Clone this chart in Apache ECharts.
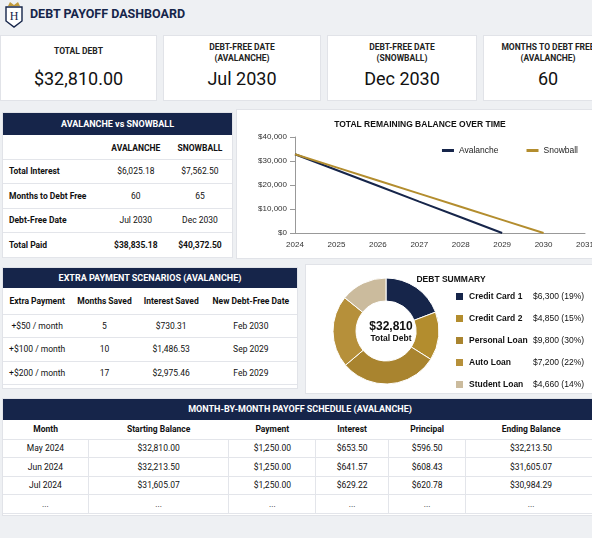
<!DOCTYPE html>
<html><head><meta charset="utf-8">
<script src="https://cdn.jsdelivr.net/npm/echarts@6/dist/echarts.min.js"></script>
<style>
body{margin:0;width:592px;height:538px;background:#eef0f3;font-family:Roboto,"Liberation Sans",Arial,sans-serif;color:#111;position:relative;overflow:hidden}
.box{position:absolute;background:#fff;border:1px solid #e1e3e8;box-sizing:border-box}
.card{text-align:center}
.card .l{font-size:8.5px;font-weight:bold;color:#222;line-height:11px}
.card .v{font-size:18px;position:absolute;left:0;right:0;top:32px}
.hd{background:#16254a;color:#fff;font-weight:bold;font-size:9px;text-align:center;height:22px;line-height:22px}
table{border-collapse:collapse;width:100%;font-size:8.5px}
td,th{text-align:center;border-bottom:1px solid #e3e5ea}
th{font-weight:bold}
</style></head><body>
<svg style="position:absolute;left:4px;top:1px" width="20" height="28" viewBox="0 0 20 28">
<path d="M4 5 L6 1 L10 4 L14 1 L16 5 Z" fill="#c19a3c"/>
<path d="M2 6 H18 V20 L10 26 L2 20 Z" fill="#fff" stroke="#16254a" stroke-width="1.4"/>
<text x="10" y="19" font-size="12" text-anchor="middle" font-family="Liberation Serif" fill="#16254a">H</text>
</svg>
<div style="position:absolute;left:30px;top:6px;font-size:12.5px;font-weight:bold;color:#16254a">DEBT PAYOFF DASHBOARD</div>

<div class="box card" style="left:0;top:35px;width:157px;height:66px"><div class="l" style="margin-top:10px">TOTAL DEBT</div><div class="v">$32,810.00</div></div>
<div class="box card" style="left:163px;top:35px;width:158px;height:66px"><div class="l" style="margin-top:6px">DEBT-FREE DATE<br>(AVALANCHE)</div><div class="v">Jul 2030</div></div>
<div class="box card" style="left:327px;top:35px;width:150px;height:66px"><div class="l" style="margin-top:6px">DEBT-FREE DATE<br>(SNOWBALL)</div><div class="v">Dec 2030</div></div>
<div class="box card" style="left:483px;top:35px;width:130px;height:66px"><div class="l" style="margin-top:6px">MONTHS TO DEBT FREE<br>(AVALANCHE)</div><div class="v">60</div></div>

<div class="box" style="left:2px;top:112px;width:231px;height:146px">
<div class="hd">AVALANCHE vs SNOWBALL</div>
<table id="avs" style="margin-top:2px"></table></div>

<div class="box" style="left:236px;top:109px;width:362px;height:150px"><div id="line" style="width:362px;height:150px"></div></div>

<div class="box" style="left:2px;top:267px;width:296px;height:122px">
<div class="hd" style="height:20px;line-height:20px">EXTRA PAYMENT SCENARIOS (AVALANCHE)</div>
<table id="ext"></table></div>

<div class="box" style="left:305px;top:264px;width:293px;height:130px"><div id="pie" style="width:293px;height:130px"></div></div>

<div class="box" style="left:2px;top:398px;width:596px;height:118px">
<div class="hd" style="height:21px;line-height:21px">MONTH-BY-MONTH PAYOFF SCHEDULE (AVALANCHE)</div>
<table id="sch"></table></div>

<script>
// ---- data ----
var avsHead = ['', 'AVALANCHE', 'SNOWBALL'];
var avsRows = [
  ['Total Interest', '$6,025.18', '$7,562.50'],
  ['Months to Debt Free', '60', '65'],
  ['Debt-Free Date', 'Jul 2030', 'Dec 2030'],
  ['Total Paid', '$38,835.18', '$40,372.50']
];
var extHead = ['Extra Payment', 'Months Saved', 'Interest Saved', 'New Debt-Free Date'];
var extRows = [
  ['+$50 / month', '5', '$730.31', 'Feb 2030'],
  ['+$100 / month', '10', '$1,486.53', 'Sep 2029'],
  ['+$200 / month', '17', '$2,975.46', 'Feb 2029']
];
var schHead = ['Month', 'Starting Balance', 'Payment', 'Interest', 'Principal', 'Ending Balance'];
var schRows = [
  ['May 2024', '$32,810.00', '$1,250.00', '$653.50', '$596.50', '$32,213.50'],
  ['Jun 2024', '$32,213.50', '$1,250.00', '$641.57', '$608.43', '$31,605.07'],
  ['Jul 2024', '$31,605.07', '$1,250.00', '$629.22', '$620.78', '$30,984.29'],
  ['...', '...', '...', '...', '...', '...']
];
var years = [2024, 2025, 2026, 2027, 2028, 2029, 2030];
var avalanche = [32810, 26250, 19700, 13100, 6550, 0, null];
var snowball = [32810, 27350, 21870, 16400, 10940, 5470, 0];
var debtNames = ['Credit Card 1', 'Credit Card 2', 'Personal Loan', 'Auto Loan', 'Student Loan'];
var debtValues = [6300, 4850, 9800, 7200, 4660];
var debtPct = ['19%', '15%', '30%', '22%', '14%'];
var debtColors = ['#16254a', '#b38d2e', '#a9842f', '#b6903a', '#cbbb9d'];

function fillTable(id, head, rows, h, firstBold, colW) {
  var t = document.getElementById(id), s = '<tr style="height:' + h[0] + 'px">';
  head.forEach(function (c, i) { s += '<th' + (colW ? ' style="width:' + colW[i] + '"' : '') + '>' + c + '</th>'; });
  s += '</tr>';
  rows.forEach(function (r) {
    s += '<tr style="height:' + h[1] + 'px">';
    r.forEach(function (c, i) {
      var st = '';
      if (firstBold && i == 0) st = 'text-align:left;padding-left:6px;font-weight:bold';
      if (firstBold && r[0] == 'Total Paid') st += ';font-weight:bold';
      s += '<td style="' + st + '">' + c + '</td>';
    });
    s += '</tr>';
  });
  t.innerHTML = s;
}
fillTable('avs', avsHead, avsRows, [22, 24.5], true, ['44%', '28%', '28%']);
fillTable('ext', extHead, extRows, [26, 23.5], false);
fillTable('sch', schHead, schRows, [19, 18.5], false);
document.querySelectorAll('#sch td').forEach(function (d) { d.style.borderRight = '1px solid #e3e5ea'; });

var line = echarts.init(document.getElementById('line'));
line.setOption({
  animation: false,
  title: { text: 'TOTAL REMAINING BALANCE OVER TIME', left: 178, top: 5, textAlign: 'center',
    textStyle: { fontSize: 8.5, fontWeight: 'bold', color: '#111' } },
  legend: { right: 16, top: 31, itemWidth: 12, itemHeight: 3, itemGap: 28, icon: 'rect',
    textStyle: { fontSize: 8.5, color: '#222' } },
  grid: { left: 58, right: 14, top: 27, bottom: 27 },
  xAxis: { type: 'value', min: 2024, max: 2031, interval: 1,
    axisLine: { lineStyle: { color: '#999' } }, axisTick: { show: false }, splitLine: { show: false },
    axisLabel: { fontSize: 8, color: '#333', formatter: function (v) { return v; } } },
  yAxis: { type: 'value', min: 0, max: 40000, interval: 10000,
    axisLine: { show: true, lineStyle: { color: '#999' } }, splitLine: { show: false },
    axisLabel: { fontSize: 8, color: '#333', formatter: function (v) { return '$' + v.toLocaleString('en-US'); } } },
  series: [
    { name: 'Avalanche', type: 'line', symbol: 'none', lineStyle: { width: 2, color: '#16254a' }, itemStyle: { color: '#16254a' },
      data: years.map(function (y, i) { return [y, avalanche[i]]; }) },
    { name: 'Snowball', type: 'line', symbol: 'none', lineStyle: { width: 2, color: '#b38d2e' }, itemStyle: { color: '#b38d2e' },
      data: years.map(function (y, i) { return [y, snowball[i]]; }) }
  ]
});

var pie = echarts.init(document.getElementById('pie'));
pie.setOption({
  animation: false,
  title: [{ text: 'DEBT SUMMARY', left: 140, top: 5, textAlign: 'center', textStyle: { fontSize: 8.5, fontWeight: 'bold', color: '#111' } },
    { text: '$32,810', subtext: 'Total Debt', left: 80, top: 51, textAlign: 'center',
      textStyle: { fontSize: 12, fontWeight: 'bold', color: '#111' }, subtextStyle: { fontSize: 8.5, color: '#111', fontWeight: 'bold' }, itemGap: 1 }],
  legend: { type: 'plain', orient: 'vertical', left: 148, top: 26, height: 110, padding: 0, itemWidth: 9, itemHeight: 9, itemGap: 11, icon: 'rect',
    textStyle: { fontSize: 8.5, color: '#111', rich: { n: { width: 64, fontWeight: 'bold', fontSize: 8.5 }, v: { fontSize: 8.5 } } },
    formatter: function (n) { var i = debtNames.indexOf(n); return '{n|' + n + '}{v|$' + debtValues[i].toLocaleString('en-US') + ' (' + debtPct[i] + ')}'; } },
  series: [{ type: 'pie', center: [80, 66], radius: [30, 53], label: { show: false },
    itemStyle: { borderColor: '#fff', borderWidth: 1 },
    data: debtNames.map(function (n, i) { return { name: n, value: debtValues[i], itemStyle: { color: debtColors[i] } }; }) }]
});
</script>
</body></html>
